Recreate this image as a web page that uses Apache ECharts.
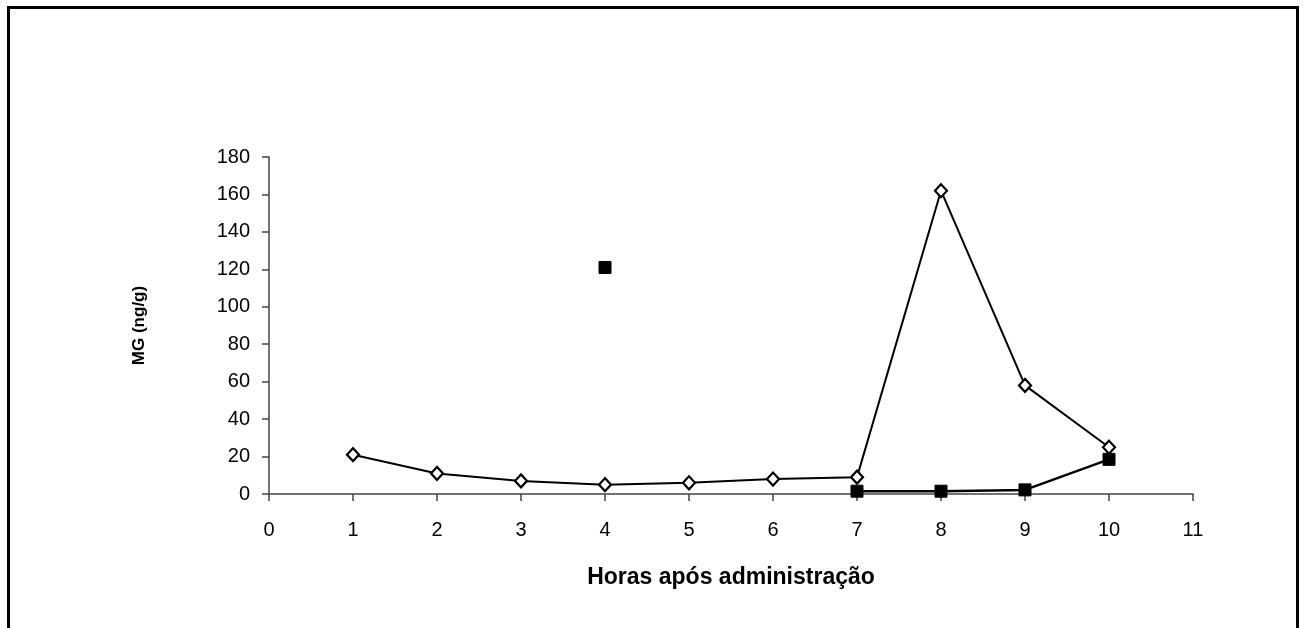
<!DOCTYPE html>
<html>
<head>
<meta charset="utf-8">
<script src="https://cdn.jsdelivr.net/npm/echarts@6/dist/echarts.min.js"></script>
<style>
html,body{margin:0;padding:0;background:#fff;}
#c{width:1304px;height:628px;}
</style>
</head>
<body>
<div id="c"></div>
<script>
const hours = [1, 2, 3, 4, 5, 6, 7, 8, 9, 10];
const seriesA = [21, 11, 7, 5, 6, 8, 9, 162, 58, 25];
const seriesB = [null, null, null, 121, null, null, 1.5, 1.5, 2.2, 18.5];
const xTitle = 'Horas após administração';
const yTitle = 'MG (ng/g)';

const chart = echarts.init(document.getElementById('c'));
const font = 'Liberation Sans, Arial, sans-serif';
chart.setOption({
  animation: false,
  backgroundColor: '#fff',
  graphic: [{
    type: 'rect', left: 6, top: 5,
    shape: { width: 1289, height: 640 },
    style: { fill: 'none', stroke: '#000', lineWidth: 3 }
  }],
  grid: { left: 269, right: 111, top: 157, bottom: 134 },
  xAxis: {
    type: 'value', min: 0, max: 11, interval: 1,
    name: xTitle, nameLocation: 'middle', nameGap: 72,
    nameTextStyle: { fontFamily: font, fontSize: 23, fontWeight: 'bold', color: '#000' },
    axisLine: { lineStyle: { color: '#444', width: 1.5 } },
    axisTick: { show: true, length: 7, inside: false, lineStyle: { color: '#444', width: 1.5 } },
    axisLabel: { fontFamily: font, fontSize: 20, color: '#000', margin: 26 },
    splitLine: { show: false }
  },
  yAxis: {
    type: 'value', min: 0, max: 180, interval: 20,
    name: yTitle, nameLocation: 'middle', nameGap: 121, nameRotate: 90,
    nameTextStyle: { fontFamily: font, fontSize: 17, fontWeight: 'bold', color: '#000' },
    axisLine: { show: true, lineStyle: { color: '#444', width: 1.5 } },
    axisTick: { show: true, length: 7, lineStyle: { color: '#444', width: 1.5 } },
    axisLabel: { fontFamily: font, fontSize: 20, color: '#000', margin: 19 },
    splitLine: { show: false }
  },
  series: [
    {
      type: 'line',
      data: hours.map((h, i) => [h, seriesA[i]]),
      symbol: 'diamond', symbolSize: [12, 13],
      itemStyle: { color: '#fff', borderColor: '#000', borderWidth: 2.2 },
      lineStyle: { color: '#000', width: 2 },
      z: 3
    },
    {
      type: 'line',
      data: hours.map((h, i) => [h, seriesB[i]]),
      connectNulls: false,
      symbol: 'rect', symbolSize: 12,
      showAllSymbol: true,
      itemStyle: { color: '#000', borderColor: '#000', borderWidth: 1 },
      lineStyle: { color: '#000', width: 2.5 },
      z: 2
    }
  ]
});
</script>
</body>
</html>
